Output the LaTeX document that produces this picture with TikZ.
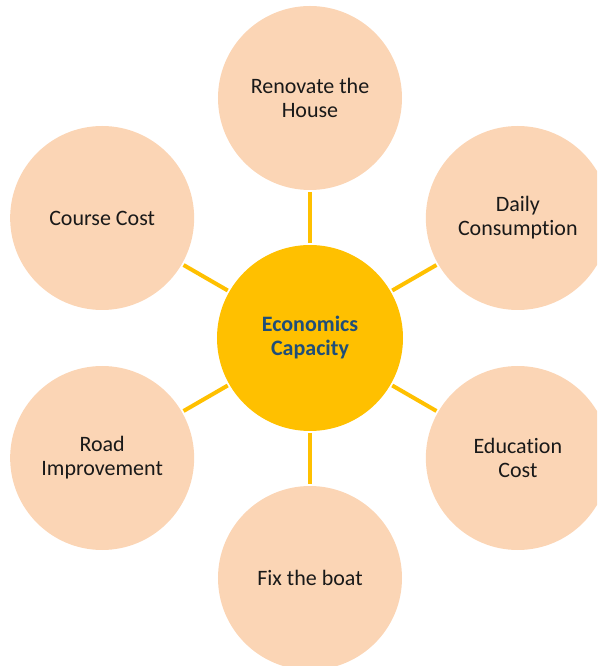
\documentclass[tikz,border=0pt]{standalone}
\usepackage{fontspec}
\setmainfont{Carlito}[Ligatures=NoCommon]
\usetikzlibrary{arrows.meta}

\definecolor{gold}{HTML}{FFC000}
\definecolor{peach}{HTML}{FBD5B5}
\definecolor{navy}{HTML}{1F4E79}

\begin{document}
\begin{tikzpicture}[
    x = 1pt, y = 1pt, % one unit per pixel
    auto,
    line width = 4pt, % line style
    main node/.style={circle,fill=gold,minimum size=186pt,inner sep=0pt,
      align=center,text=navy,font=\fontsize{22}{24}\selectfont\bfseries},
    outer node/.style={circle,fill=peach,minimum size=184pt,inner sep=0pt,
      align=center,text=black!90,font=\fontsize{22}{24}\selectfont}
  ]
  \useasboundingbox (-310,-328) rectangle (287,338);
  \clip (-310,-328) rectangle (287,338);

  % Nodes
  \node[main node] (c) at (0,0) {Economics\\Capacity};
  \node[outer node] (house) at (90:240) {Renovate the\\House};
  \node[outer node] (daily) at (30:240) {Daily\\Consumption};
  \node[outer node] (edu) at (-30:240) {Education\\Cost};
  \node[outer node] (boat) at (-90:240) {Fix the boat};
  \node[outer node] (road) at (210:240) {Road\\Improvement};
  \node[outer node] (course) at (150:240) {Course Cost};

  % Edges
  \path[draw=gold]
    (c) edge (house)
    (c) edge (daily)
    (c) edge (edu)
    (c) edge (boat)
    (c) edge (road)
    (c) edge (course);
\end{tikzpicture}
\end{document}
